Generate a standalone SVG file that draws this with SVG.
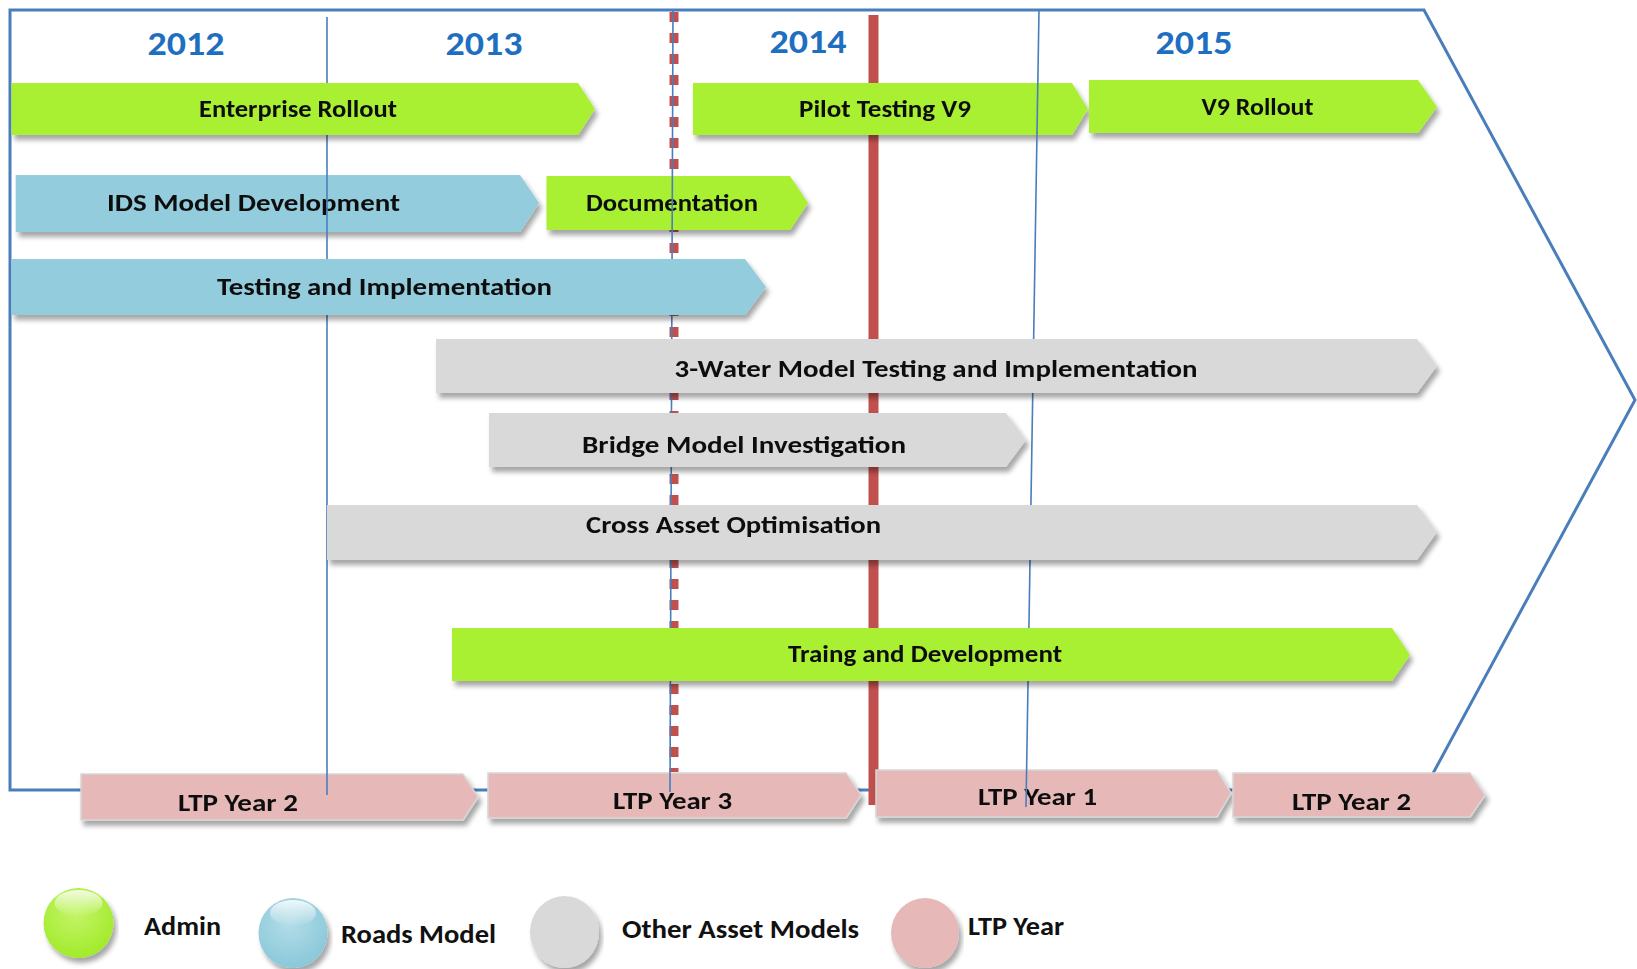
<svg xmlns="http://www.w3.org/2000/svg" width="1637" height="969" viewBox="0 0 1637 969">
<defs>
<style>
.yr{font-family:Carlito,Lato,"Liberation Sans",sans-serif;font-weight:bold;font-size:34px;fill:#1f6fc1;text-anchor:middle}
.lb{font-family:Carlito,Lato,"Liberation Sans",sans-serif;font-weight:bold;font-size:25px;fill:#111;text-anchor:middle}
.lg{font-family:Carlito,Lato,"Liberation Sans",sans-serif;font-weight:600;font-size:26px;fill:#111}
.green{fill:#a9ef33}
.blue{fill:#93cddd}
.grey{fill:#d9d9d9}
.pink{fill:#e6b9b8;stroke:#d6d6d6;stroke-width:1.5}
.bar{filter:url(#sh)}
.thin{stroke:#4a7ebb;stroke-width:1.6;fill:none}
</style>
<filter id="sh" x="-5%" y="-20%" width="112%" height="150%">
<feDropShadow dx="3" dy="5" stdDeviation="2.5" flood-color="#000" flood-opacity="0.35"/>
</filter>
<radialGradient id="gG" cx="0.45" cy="0.35" r="0.65">
<stop offset="0" stop-color="#c4f56a"/>
<stop offset="1" stop-color="#a2ea2a"/>
</radialGradient>
<radialGradient id="gB" cx="0.45" cy="0.35" r="0.65">
<stop offset="0" stop-color="#b4dde8"/>
<stop offset="1" stop-color="#8ac8d9"/>
</radialGradient>
<linearGradient id="hl" x1="0" y1="0" x2="0" y2="1">
<stop offset="0" stop-color="#fff" stop-opacity="0.85"/>
<stop offset="1" stop-color="#fff" stop-opacity="0"/>
</linearGradient>
</defs>
<rect width="1637" height="969" fill="#fff"/>

<g id="frame">
<polygon points="10,10 1424,10 1635,400 1424,790 10,790" fill="none" stroke="#4a7ebb" stroke-width="3"/>
</g>

<g id="years">
<text class="yr" x="186" y="55" textLength="77" lengthAdjust="spacingAndGlyphs">2012</text>
<text class="yr" x="484" y="55" textLength="77" lengthAdjust="spacingAndGlyphs">2013</text>
<text class="yr" x="808" y="53" textLength="77" lengthAdjust="spacingAndGlyphs">2014</text>
<text class="yr" x="1194" y="54" textLength="77" lengthAdjust="spacingAndGlyphs">2015</text>
</g>

<g id="markers">
<line x1="674" y1="12" x2="674" y2="772" stroke="#c0504d" stroke-width="9" stroke-dasharray="10 11"/>
<line x1="873.5" y1="15" x2="873.5" y2="805" stroke="#c0504d" stroke-width="10"/>
</g>

<g id="ids-model-development" class="bar">
<path class="blue" d="M15.7,175 H520 L539,203 L520,232 H15.7 Z"/>
<text class="lb" x="253.5" y="211" textLength="293" lengthAdjust="spacingAndGlyphs">IDS Model Development</text>
</g>
<g id="documentation" class="bar">
<path class="green" d="M546.5,176 H790 L808,203 L790,230 H546.5 Z"/>
<text class="lb" x="672" y="211" textLength="172" lengthAdjust="spacingAndGlyphs">Documentation</text>
</g>
<g id="pilot-testing-v9" class="bar">
<path class="green" d="M693,83 H1072 L1088,109 L1072,135 H693 Z"/>
<text class="lb" x="885" y="117" textLength="172" lengthAdjust="spacingAndGlyphs">Pilot Testing V9</text>
</g>
<g id="ltp-year-2a" class="bar">
<path class="pink" d="M81,774 H463 L478,797 L463,820 H81 Z"/>
<text class="lb" x="238" y="811" textLength="120" lengthAdjust="spacingAndGlyphs">LTP Year 2</text>
</g>
<g id="ltp-year-3" class="bar">
<path class="pink" d="M488,773 H846 L861,795 L846,818 H488 Z"/>
<text class="lb" x="672.5" y="809" textLength="119" lengthAdjust="spacingAndGlyphs">LTP Year 3</text>
</g>
<g id="ltp-year-1" class="bar">
<path class="pink" d="M876,770 H1217 L1231,793 L1217,817 H876 Z"/>
<text class="lb" x="1037.5" y="805" textLength="119" lengthAdjust="spacingAndGlyphs">LTP Year 1</text>
</g>
<g id="ltp-year-2b" class="bar">
<path class="pink" d="M1233,773 H1470 L1485,795 L1470,817 H1233 Z"/>
<text class="lb" x="1351.5" y="810" textLength="119" lengthAdjust="spacingAndGlyphs">LTP Year 2</text>
</g>

<g id="connectors">
<line class="thin" x1="327" y1="17" x2="327" y2="795"/>
<line class="thin" x1="673" y1="10" x2="670" y2="792"/>
<line class="thin" x1="1039" y1="10" x2="1026" y2="807"/>
</g>

<g id="enterprise-rollout" class="bar">
<path class="green" d="M11.5,83 H578 L595,109 L578,135 H11.5 Z"/>
<text class="lb" x="298" y="117" textLength="198" lengthAdjust="spacingAndGlyphs">Enterprise Rollout</text>
</g>
<g id="v9-rollout" class="bar">
<path class="green" d="M1089,80 H1418 L1437,107 L1418,133 H1089 Z"/>
<text class="lb" x="1257.5" y="115" textLength="112" lengthAdjust="spacingAndGlyphs">V9 Rollout</text>
</g>
<g id="testing-and-implementation" class="bar">
<path class="blue" d="M11.5,259 H745 L766,287 L745,315 H11.5 Z"/>
<text class="lb" x="384.5" y="295" textLength="335" lengthAdjust="spacingAndGlyphs">Testing and Implementation</text>
</g>
<g id="three-water-model" class="bar">
<path class="grey" d="M436,339 H1417 L1437,366 L1417,393 H436 Z"/>
<text class="lb" x="936" y="377" textLength="523" lengthAdjust="spacingAndGlyphs">3-Water Model Testing and Implementation</text>
</g>
<g id="bridge-model-investigation" class="bar">
<path class="grey" d="M489,413 H1006 L1026,440 L1006,467 H489 Z"/>
<text class="lb" x="744" y="453" textLength="324" lengthAdjust="spacingAndGlyphs">Bridge Model Investigation</text>
</g>
<g id="cross-asset-optimisation" class="bar">
<path class="grey" d="M327,505 H1417 L1437,532 L1417,560 H327 Z"/>
<text class="lb" x="733.5" y="533" textLength="295" lengthAdjust="spacingAndGlyphs">Cross Asset Optimisation</text>
</g>
<g id="traing-and-development" class="bar">
<path class="green" d="M452,628 H1392 L1410,655 L1392,681 H452 Z"/>
<text class="lb" x="925" y="662" textLength="274" lengthAdjust="spacingAndGlyphs">Traing and Development</text>
</g>

<g id="legend-admin">
<ellipse cx="78.5" cy="923" rx="35" ry="35" fill="url(#gG)" filter="url(#sh)"/>
<ellipse cx="78.5" cy="903" rx="24" ry="13" fill="url(#hl)"/>
<text class="lg" x="144" y="935" textLength="77" lengthAdjust="spacingAndGlyphs">Admin</text>
</g>
<g id="legend-roads">
<ellipse cx="293" cy="933" rx="34.5" ry="35" fill="url(#gB)" filter="url(#sh)"/>
<ellipse cx="293" cy="913" rx="23" ry="13" fill="url(#hl)"/>
<text class="lg" x="341" y="943" textLength="155" lengthAdjust="spacingAndGlyphs">Roads Model</text>
</g>
<g id="legend-other">
<ellipse cx="564.5" cy="932" rx="34.5" ry="36" fill="#d9d9d9" filter="url(#sh)"/>
<text class="lg" x="622" y="938" textLength="237" lengthAdjust="spacingAndGlyphs">Other Asset Models</text>
</g>
<g id="legend-ltp">
<ellipse cx="925" cy="933" rx="34" ry="35" fill="#e6b9b8" filter="url(#sh)"/>
<text class="lg" x="968" y="935" textLength="96" lengthAdjust="spacingAndGlyphs">LTP Year</text>
</g>
</svg>
